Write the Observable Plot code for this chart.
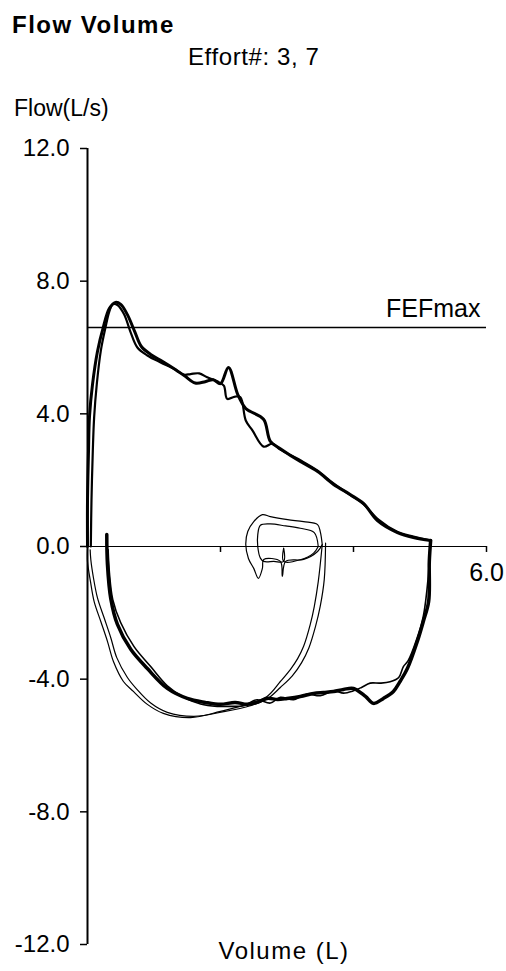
<!DOCTYPE html>
<html>
<head>
<meta charset="utf-8">
<script src="https://cdn.jsdelivr.net/npm/d3@7"></script>
<script src="https://cdn.jsdelivr.net/npm/@observablehq/plot@0.6"></script>
<style>
  html, body { margin: 0; padding: 0; background: #fff; }
  #page { width: 506px; height: 971px; position: relative; overflow: hidden; font-family: "Liberation Sans", Arial, sans-serif; color: #000; }
  #head { position: relative; height: 125px; }
  .t { position: absolute; white-space: nowrap; }
</style>
</head>
<body>
<div id="page">
  <div id="head">
    <div class="t" style="left:12px;top:13px;font-size:24px;line-height:24px;font-weight:bold;letter-spacing:1.5px;">Flow Volume</div>
    <div class="t" style="left:188px;top:45px;font-size:24px;line-height:24px;letter-spacing:0.6px;">Effort#: 3, 7</div>
    <div class="t" style="left:14px;top:97px;font-size:23px;line-height:23px;">Flow(L/s)</div>
  </div>
  <div id="chart"></div>
</div>
<script>
// ---- data (volume in L, flow in L/s) ----
const yTicks = [-12, -8, -4, 0, 4, 8, 12];
const xTicks = [2, 4, 6];
const xTickLabels = [6];
const fefMax = 6.6;
const fefLabel = "FEFmax";
const xLabel = "Volume (L)";

// forced expiration, effort 3
const expVolume3 = [0, 0, 0.015, 0.03, 0.075, 0.15, 0.24, 0.33, 0.42, 0.5, 0.6, 0.71, 0.81, 0.95, 1.13, 1.32, 1.47, 1.62, 1.77, 1.89, 2.0, 2.12, 2.26, 2.38, 2.45, 2.65, 2.75, 2.9, 3.2, 3.46, 3.7, 3.95, 4.15, 4.36, 4.66, 4.9, 5.16];
const expFlow3   = [0, 1.36, 2.86, 3.92, 4.88, 5.88, 6.63, 7.18, 7.36, 7.3, 6.99, 6.48, 6.03, 5.79, 5.58, 5.34, 5.13, 4.93, 4.97, 5.03, 4.91, 5.4, 4.58, 4.16, 4.07, 3.83, 3.17, 2.95, 2.56, 2.26, 1.87, 1.57, 1.3, 0.78, 0.42, 0.27, 0.18];
// forced expiration, effort 7
const expVolume7 = [0.05, 0.06, 0.08, 0.1, 0.14, 0.2, 0.27, 0.33, 0.38, 0.45, 0.55, 0.65, 0.75, 0.9, 1.1, 1.3, 1.45, 1.55, 1.68, 1.8, 1.95, 2.05, 2.1, 2.22, 2.3, 2.38, 2.48, 2.65, 2.78, 2.9, 3.2, 3.45, 3.7, 3.95, 4.15, 4.38, 4.65, 4.9, 5.16];
const expFlow7   = [0, 1.4, 2.9, 3.9, 4.9, 5.9, 6.6, 7.1, 7.3, 7.28, 7.0, 6.45, 6.0, 5.76, 5.55, 5.36, 5.18, 5.2, 5.22, 5.1, 4.98, 4.85, 4.45, 4.52, 4.5, 3.8, 3.5, 3.01, 3.1, 2.92, 2.6, 2.3, 1.9, 1.55, 1.28, 0.8, 0.45, 0.3, 0.18];
// inspiration after expiration, effort 3
const inspVolume3 = [5.16, 5.14, 5.13, 5.05, 4.96, 4.81, 4.7, 4.6, 4.45, 4.3, 4.18, 4.0, 3.85, 3.7, 3.55, 3.4, 3.2, 3.0, 2.86, 2.7, 2.55, 2.4, 2.22, 2.0, 1.77, 1.5, 1.2, 0.9, 0.65, 0.45, 0.35, 0.3, 0.29];
const inspFlow3   = [0.18, -0.45, -1.66, -2.26, -2.86, -3.68, -4.07, -4.37, -4.58, -4.73, -4.52, -4.28, -4.31, -4.37, -4.4, -4.43, -4.52, -4.58, -4.61, -4.58, -4.7, -4.76, -4.7, -4.76, -4.7, -4.58, -4.28, -3.68, -3.1, -2.35, -1.57, -0.54, 0.36];
// inspiration after expiration, effort 7
const inspVolume7 = [5.15, 5.12, 5.05, 4.95, 4.82, 4.75, 4.68, 4.55, 4.4, 4.25, 4.12, 4.0, 3.85, 3.7, 3.5, 3.3, 3.1, 2.9, 2.75, 2.55, 2.35, 2.15, 1.95, 1.7, 1.45, 1.2, 0.95, 0.7, 0.5, 0.38, 0.33, 0.31];
const inspFlow7   = [0, -1.0, -2.1, -2.8, -3.45, -3.62, -3.95, -4.08, -4.12, -4.12, -4.25, -4.35, -4.42, -4.35, -4.5, -4.45, -4.62, -4.55, -4.72, -4.62, -4.8, -4.82, -4.82, -4.75, -4.55, -4.2, -3.62, -3.02, -2.3, -1.6, -0.8, -0.1];
// inspiration before expiration, effort 3
const preVolume3 = [3.53, 3.47, 3.41, 3.35, 3.25, 3.16, 3.05, 2.9, 2.7, 2.4, 2.0, 1.55, 1.14, 0.9, 0.69, 0.54, 0.39, 0.3, 0.2, 0.1, 0.045, 0, 0];
const preFlow3   = [0.06, -1.06, -1.81, -2.35, -3.01, -3.38, -3.71, -4.07, -4.52, -4.76, -4.97, -5.16, -5.03, -4.76, -4.37, -4.07, -3.47, -2.86, -2.26, -1.66, -1.06, -0.45, -0.09];
// inspiration before expiration, effort 7
const preVolume7 = [3.58, 3.56, 3.5, 3.43, 3.33, 3.22, 3.08, 2.9, 2.7, 2.45, 2.05, 1.6, 1.2, 0.95, 0.74, 0.6, 0.44, 0.35, 0.25, 0.15, 0.09, 0.05, 0.04];
const preFlow7   = [0.1, -1.0, -1.8, -2.4, -3.05, -3.5, -3.9, -4.25, -4.6, -4.8, -4.98, -5.12, -5.0, -4.72, -4.3, -3.95, -3.35, -2.75, -2.15, -1.55, -0.95, -0.4, -0.1];
// tidal breathing loops
const tidalVolume3 = [3.53, 3.5, 3.46, 3.25, 3.01, 2.75, 2.63, 2.5, 2.41, 2.38, 2.42, 2.5, 2.57, 2.63, 2.65, 2.9, 2.93, 2.98, 3.25, 3.46, 3.53];
const tidalFlow3   = [0.06, 0.45, 0.66, 0.75, 0.81, 0.9, 0.96, 0.75, 0.45, 0.06, -0.36, -0.66, -0.96, -0.66, -0.39, -0.45, -0.9, -0.45, -0.39, -0.15, 0.06];
const tidalVolume7 = [3.47, 3.41, 3.2, 2.98, 2.75, 2.6, 2.56, 2.56, 2.6, 2.65, 2.8, 2.95, 2.95, 2.95, 3.2, 3.4, 3.47];
const tidalFlow7   = [0, 0.42, 0.55, 0.62, 0.68, 0.64, 0.35, 0.0, -0.35, -0.45, -0.45, -0.45, -0.05, -0.45, -0.4, -0.2, 0];

const rows = (vol, flow) => vol.map((v, i) => ({volume: v, flow: flow[i]}));

const lineOpts = (w) => ({x: "volume", y: "flow", stroke: "#000", strokeWidth: w, curve: "catmull-rom", strokeLinejoin: "round", strokeLinecap: "round"});

const chart = Plot.plot({
  width: 506,
  height: 846,
  marginLeft: 87,
  marginRight: 20,
  marginTop: 23,
  marginBottom: 27,
  style: {fontFamily: "Liberation Sans, Arial, sans-serif", fontSize: "24px", color: "#000", background: "#fff", overflow: "visible"},
  x: {domain: [0, 6], axis: null},
  y: {domain: [-12, 12], axis: null},
  marks: [
    Plot.axisY({ticks: yTicks, tickFormat: d => d.toFixed(1), tickSize: 7, tickPadding: 11, label: null, fontSize: 24, strokeWidth: 1.5}),
    Plot.ruleX([0], {y1: -12, y2: 12, stroke: "#000", strokeWidth: 2}),
    Plot.ruleY([0], {x1: 0, x2: 6, stroke: "#000", strokeWidth: 1.2}),
    Plot.ruleX(xTicks, {y1: 0, y2: -0.18, stroke: "#000", strokeWidth: 1.5}),
    Plot.text(xTickLabels, {x: d => d, y: 0, text: d => d.toFixed(1), dy: 26, fontSize: 25}),
    Plot.ruleY([fefMax], {x1: 0, x2: 6, stroke: "#000", strokeWidth: 1.5}),
    Plot.text([fefLabel], {x: 6, y: fefMax, text: d => d, textAnchor: "end", dx: -6, dy: -19, fontSize: 25}),
    Plot.text([xLabel], {frameAnchor: "bottom", text: d => d, dy: 14, dx: -3, fontSize: 24}),
    Plot.line(rows(tidalVolume3, tidalFlow3), lineOpts(1.2)),
    Plot.line(rows(tidalVolume7, tidalFlow7), lineOpts(1.2)),
    Plot.line(rows(preVolume3, preFlow3), lineOpts(1.2)),
    Plot.line(rows(preVolume7, preFlow7), lineOpts(1.2)),
    Plot.line(rows(inspVolume7, inspFlow7), lineOpts(1.6)),
    Plot.line(rows(inspVolume3, inspFlow3), lineOpts(3.5)),
    Plot.line(rows(expVolume7, expFlow7), lineOpts(2.2)),
    Plot.line(rows(expVolume3, expFlow3), lineOpts(3))
  ]
});
d3.select(chart).selectAll("text").filter(function() { return this.textContent === xLabel; }).attr("letter-spacing", "1.5");
document.getElementById("chart").appendChild(chart);
</script>
</body>
</html>
